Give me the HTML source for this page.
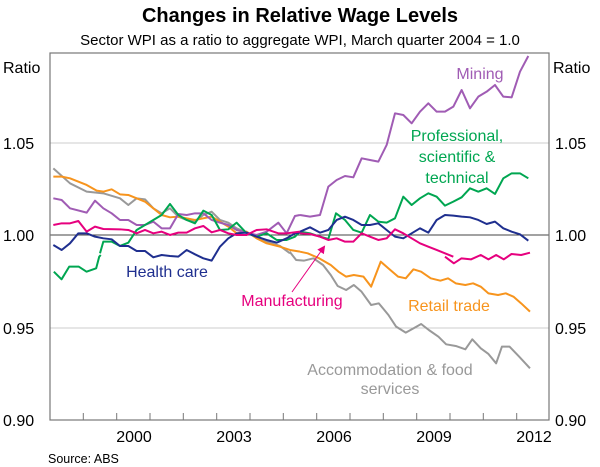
<!DOCTYPE html>
<html><head><meta charset="utf-8"><style>
body{margin:0;background:#fff;}
svg{display:block;font-family:"Liberation Sans",Arial,sans-serif;}
</style></head><body>
<svg width="600" height="467" viewBox="0 0 600 467" xmlns="http://www.w3.org/2000/svg">
<defs><marker id="ah" markerWidth="8" markerHeight="8" refX="6" refY="4" orient="auto" markerUnits="userSpaceOnUse"><path d="M0,0 L8,4 L0,8 z" fill="#e6007e"/></marker></defs>
<text x="300" y="22" text-anchor="middle" font-size="20" font-weight="bold">Changes in Relative Wage Levels</text>
<text x="300" y="45" text-anchor="middle" font-size="15">Sector WPI as a ratio to aggregate WPI, March quarter 2004 = 1.0</text>
<text x="3" y="73" font-size="16">Ratio</text>
<text x="553" y="73" font-size="16">Ratio</text>
<g font-size="16">
<text x="3" y="149">1.05</text><text x="3" y="241">1.00</text><text x="3" y="334">0.95</text><text x="3" y="426">0.90</text>
<text x="555" y="149">1.05</text><text x="555" y="241">1.00</text><text x="555" y="334">0.95</text><text x="555" y="426">0.90</text>
</g>
<line x1="50" y1="143" x2="549" y2="143" stroke="#ccc"/>
<line x1="50" y1="328" x2="549" y2="328" stroke="#ccc"/>
<line x1="50" y1="235" x2="549" y2="235" stroke="#444"/>
<rect x="50" y="53" width="499" height="367" fill="none" stroke="#777" stroke-width="1.2"/>
<g stroke="#777">
<line x1="83.3" y1="420" x2="83.3" y2="413"/><line x1="116.7" y1="420" x2="116.7" y2="413"/><line x1="150" y1="420" x2="150" y2="413"/><line x1="183.3" y1="420" x2="183.3" y2="413"/><line x1="216.7" y1="420" x2="216.7" y2="413"/><line x1="250" y1="420" x2="250" y2="413"/><line x1="283.3" y1="420" x2="283.3" y2="413"/><line x1="316.7" y1="420" x2="316.7" y2="413"/><line x1="350" y1="420" x2="350" y2="413"/><line x1="383.3" y1="420" x2="383.3" y2="413"/><line x1="416.7" y1="420" x2="416.7" y2="413"/><line x1="450" y1="420" x2="450" y2="413"/><line x1="483.3" y1="420" x2="483.3" y2="413"/><line x1="516.7" y1="420" x2="516.7" y2="413"/>
</g>
<g font-size="16" text-anchor="middle">
<text x="134" y="442">2000</text><text x="234" y="442">2003</text><text x="334" y="442">2006</text><text x="434" y="442">2009</text><text x="534" y="442">2012</text>
</g>
<text x="48" y="463" font-size="12.5">Source: ABS</text>
<g fill="none" stroke-width="2" stroke-linejoin="round">
<g stroke="#999">
<polyline vector-effect="non-scaling-stroke" transform="translate(0,40) scale(0.3333)" points="160,385 210,430 260,455 310,460 360,475 385,495 410,475 435,478 460,505 485,520 510,505 535,530 560,540 585,545 610,525 635,515 660,540 685,548 710,565 740,578 770,590 800,605 840,618 870,640"/>
<polyline vector-effect="non-scaling-stroke" transform="translate(0,250) scale(0.3846,0.3333)" points="753,5 770,30 790,32 815,25 840,45 860,75 878,108 900,120 920,105 940,125 965,165 985,160 1010,195 1030,230 1055,248 1075,235 1095,222 1115,240 1140,260 1160,283 1185,288 1210,298 1228,268 1250,295 1270,312 1290,340 1305,290 1325,290 1350,320 1378,355"/>
</g>
<g stroke="#f7941d">
<polyline vector-effect="non-scaling-stroke" transform="translate(0,40) scale(0.3333)" points="160,410 185,410 210,415 260,435 290,452 310,455 335,448 360,463 385,465 410,475 435,485 460,505 485,525 510,532 535,530 560,535 585,540 610,535 635,530 660,545 685,560 710,580 740,575 770,595 800,610 840,620 870,630 900,635"/>
<polyline vector-effect="non-scaling-stroke" transform="translate(0,250) scale(0.3846,0.3333)" points="780,5 800,10 830,25 860,45 880,65 900,80 920,75 945,80 965,110 990,35 1010,55 1035,80 1055,85 1075,58 1095,65 1120,85 1145,92 1165,85 1185,100 1210,105 1230,100 1250,110 1270,130 1295,135 1315,130 1335,140 1355,160 1378,185"/>
</g>
<g stroke="#a05cb4">
<polyline vector-effect="non-scaling-stroke" transform="translate(0,40) scale(0.3333)" points="160,475 185,480 210,505 260,518 285,482 310,505 335,520 360,540 385,540 410,555 435,555 460,545 485,565 510,565 535,522 560,525 585,520 610,520 635,540 660,548 685,555 710,570 740,578 770,585 800,575 835,548 860,580 885,528 900,525"/>
<polyline vector-effect="non-scaling-stroke" transform="translate(300,40) scale(0.3333)" points="0,525 30,530 60,525 85,440 110,420 135,408 160,412 185,355 210,360 235,365 260,315 285,220 310,225 335,250 360,215 385,190 410,215 435,215 460,200 485,150 510,205 535,170 560,155 585,135 610,170 635,172 660,95 685,48"/>
</g>
<g stroke="#00a651">
<polyline vector-effect="non-scaling-stroke" transform="translate(0,250) scale(0.3846,0.3333)" points="140,65 160,88 180,50 205,50 225,65 250,55 258,20 262,15"/>
<polyline vector-effect="non-scaling-stroke" transform="translate(0,40) scale(0.3333)" points="300,640 310,605 335,605 360,618 385,608 410,570 435,555 460,540 485,525 510,492 535,525 560,540 585,550 610,512 635,525 660,570 685,568 710,548 740,580 770,590 800,580 830,600 860,600 885,590 900,575"/>
<polyline vector-effect="non-scaling-stroke" transform="translate(300,40) scale(0.3333)" points="0,575 30,580 60,590 85,597 108,520 135,540 160,570 185,578 210,525 235,545 260,548 285,535 310,470 335,495 360,475 385,460 410,470 435,497 460,485 485,472 510,445 535,455 560,445 585,462 610,415 635,400 660,400 685,415"/>
</g>
<g stroke="#1f2f8f">
<polyline vector-effect="non-scaling-stroke" transform="translate(0,40) scale(0.3333)" points="160,615 185,630 210,610 235,580 260,580 285,590 310,595 335,598 360,618 385,618 410,633 435,633 460,652 485,645 510,648 535,650 560,630 585,643 610,655 635,662 660,620 685,595 710,580 740,578 770,590 800,600 830,608 860,595 885,580 900,578"/>
<polyline vector-effect="non-scaling-stroke" transform="translate(300,40) scale(0.3333)" points="0,575 30,562 60,578 85,570 110,540 135,530 160,540 185,555 210,555 235,550 260,570 285,590 310,595 335,580 360,565 385,578 410,540 435,525 460,527 485,530 510,532 535,540 560,552 585,545 610,565 635,575 660,583 685,602"/>
</g>
<g stroke="#e6007e">
<polyline vector-effect="non-scaling-stroke" transform="translate(0,40) scale(0.3333)" points="160,555 185,550 210,550 235,543 260,575 285,560 310,567 360,568 385,570 410,580 435,570 460,580 485,575 510,585 535,578 560,578 585,565 610,558 635,577 660,570 685,580 710,585 740,585 770,570 800,568 835,580 860,580 900,575"/>
<polyline vector-effect="non-scaling-stroke" transform="translate(300,40) scale(0.3333)" points="0,580 30,582 60,590 85,600 110,595 135,605 160,605 185,580 210,590 235,600 260,595 285,568 310,580 335,595 360,610 385,620 410,630 435,640 460,650"/>
<polyline vector-effect="non-scaling-stroke" transform="translate(0,250) scale(0.3846,0.3333)" points="1157,20 1180,40 1200,25 1225,28 1250,15 1270,28 1290,15 1310,28 1330,12 1355,15 1378,8"/>
</g>
</g>
<line x1="292" y1="292" x2="324" y2="247" stroke="#e6007e" stroke-width="1" marker-end="url(#ah)"/>
<g font-size="16">
<text x="480" y="79" text-anchor="middle" fill="#a05cb4">Mining</text>
<text x="457" y="141" text-anchor="middle" fill="#00a651">Professional,</text>
<text x="457" y="162" text-anchor="middle" fill="#00a651">scientific &amp;</text>
<text x="457" y="183" text-anchor="middle" fill="#00a651">technical</text>
<text x="167" y="277" text-anchor="middle" fill="#1f2f8f">Health care</text>
<text x="292" y="306" text-anchor="middle" fill="#e6007e">Manufacturing</text>
<text x="449" y="311" text-anchor="middle" fill="#f7941d">Retail trade</text>
<text x="390" y="375" text-anchor="middle" fill="#999">Accommodation &amp; food</text>
<text x="390" y="394" text-anchor="middle" fill="#999">services</text>
</g>
</svg>
</body></html>
